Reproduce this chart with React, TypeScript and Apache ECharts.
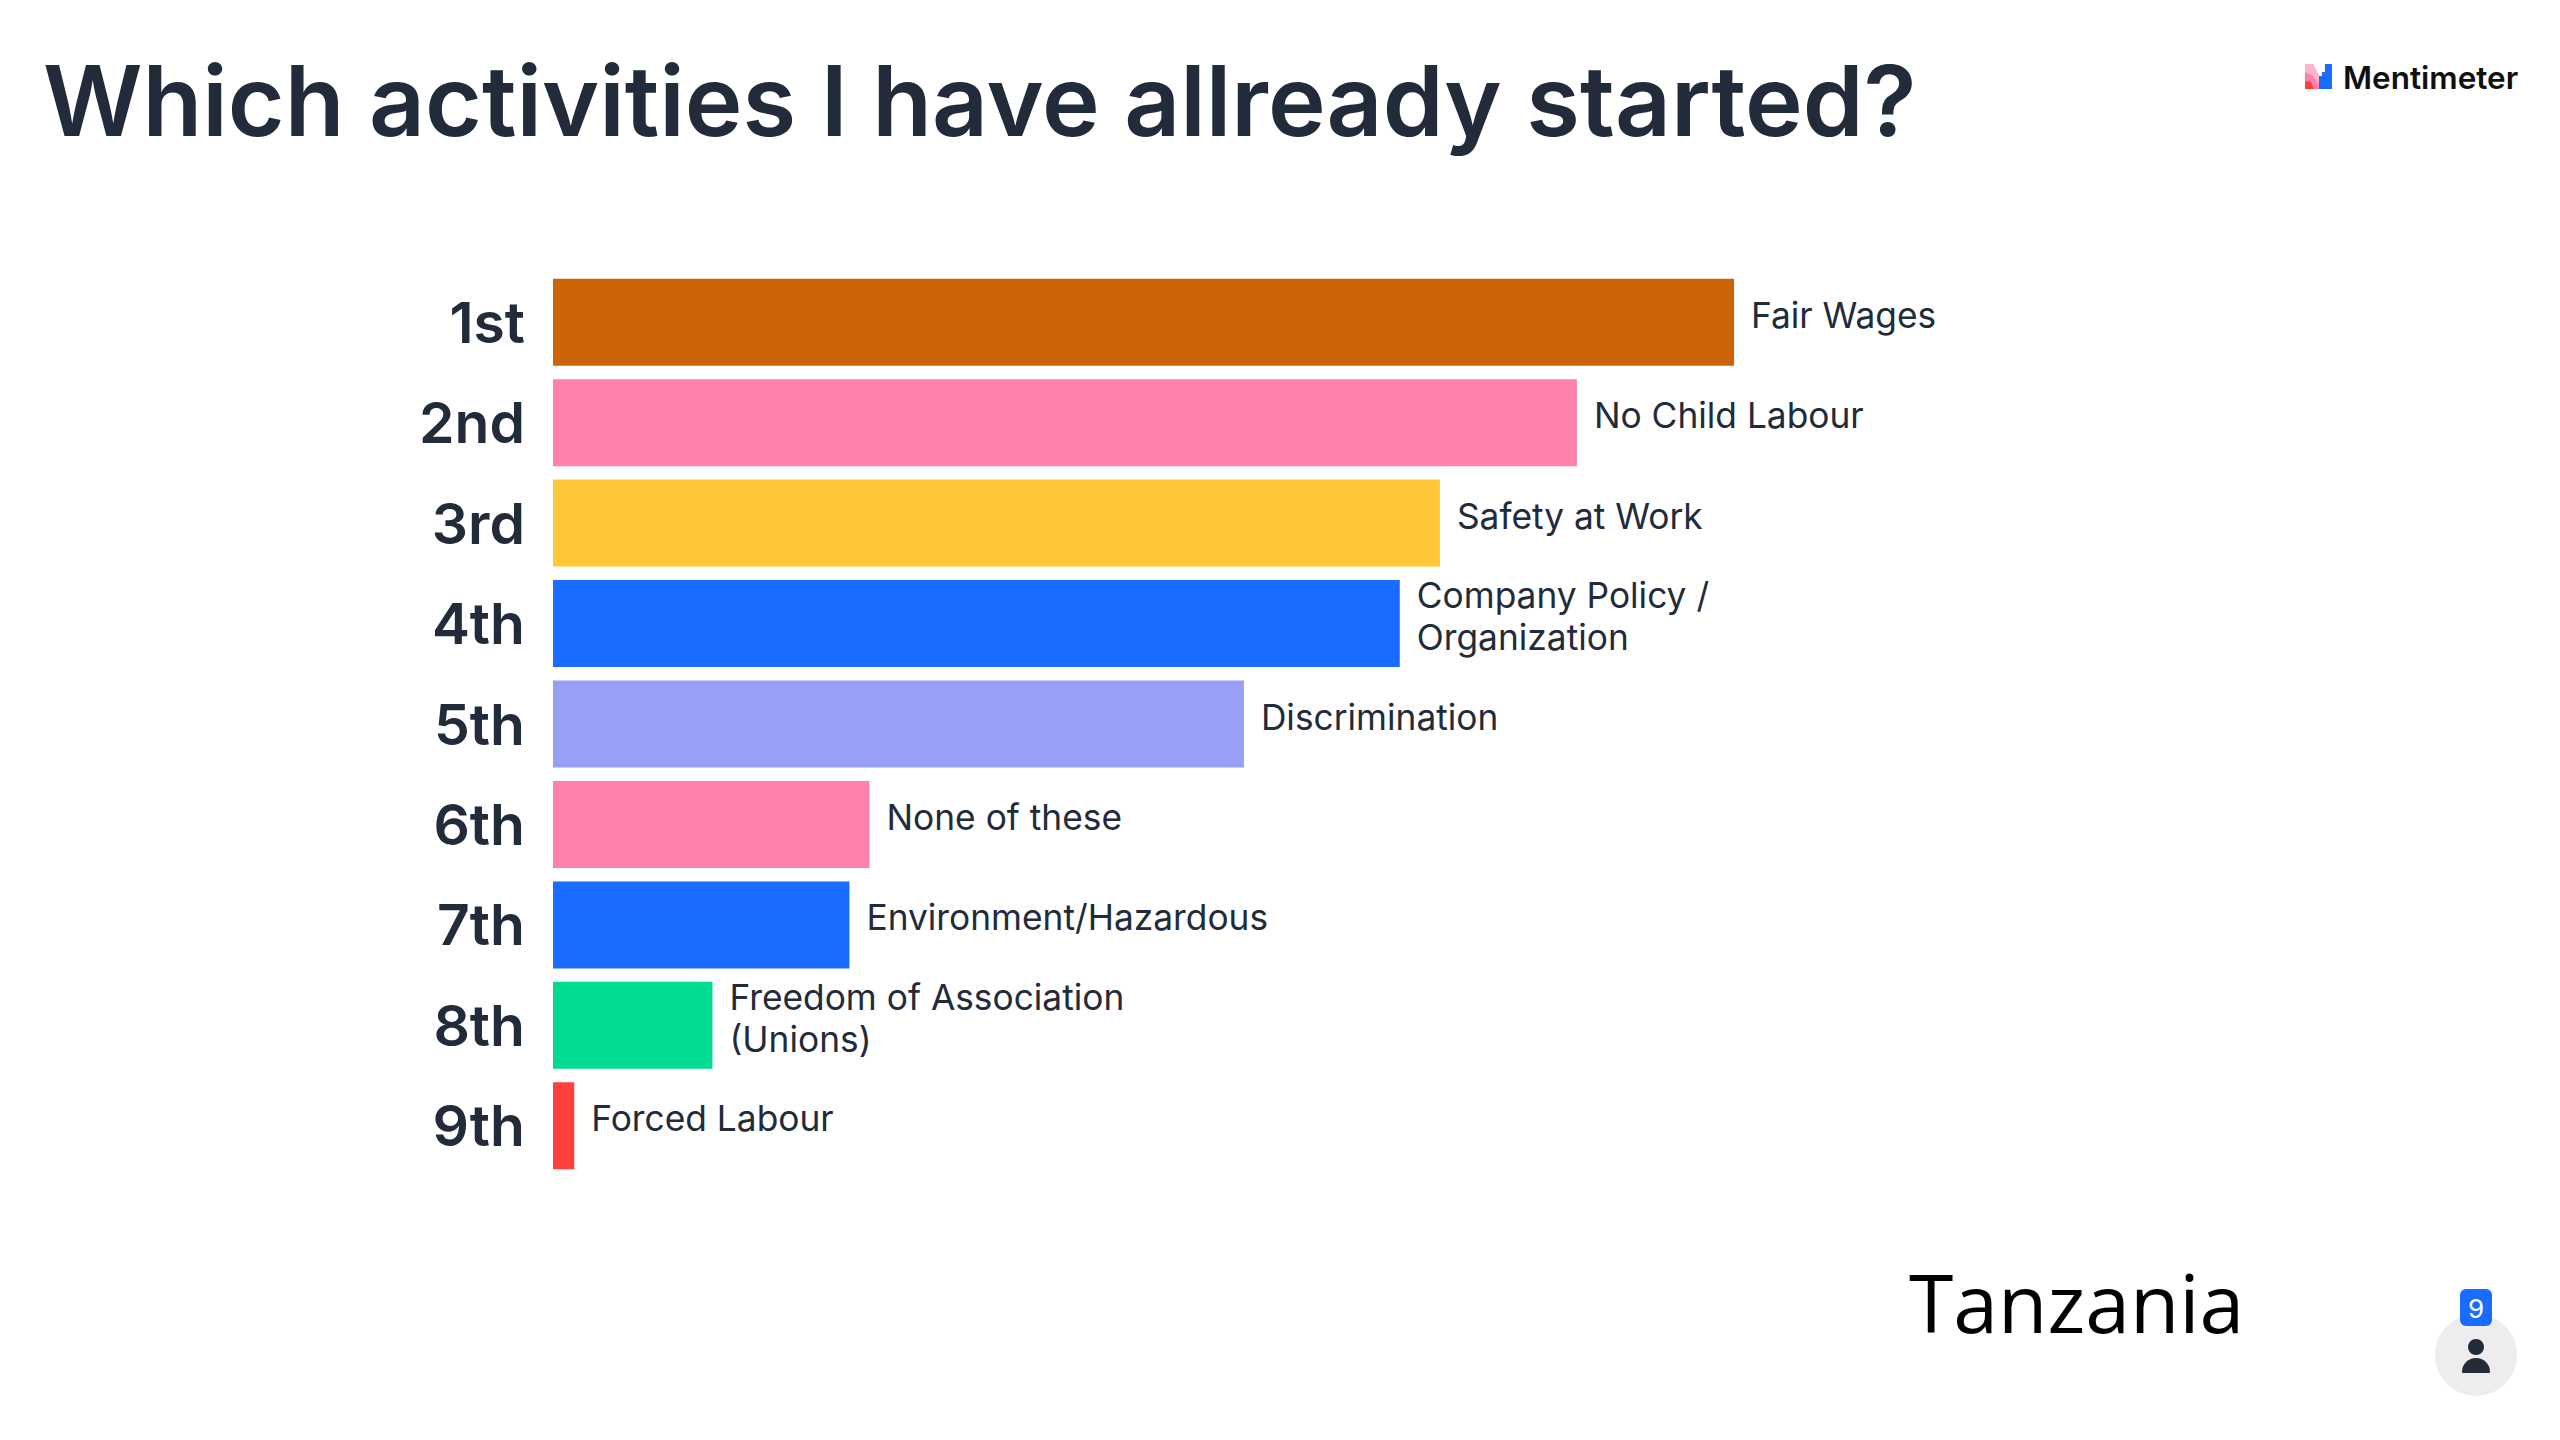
import React, { useEffect, useRef } from "react";
import * as echarts from "echarts";

const ranks = ["1st", "2nd", "3rd", "4th", "5th", "6th", "7th", "8th", "9th"];
const labels = [
  "Fair Wages",
  "No Child Labour",
  "Safety at Work",
  "Company Policy /\nOrganization",
  "Discrimination",
  "None of these",
  "Environment/Hazardous",
  "Freedom of Association\n(Unions)",
  "Forced Labour",
];
const values = [100, 86.7, 75.1, 71.7, 58.5, 26.8, 25.1, 13.5, 1.8];
const colors = ["#CC6508", "#FF80AB", "#FFC638", "#196CFF", "#9A9FF6", "#FF80AB", "#196CFF", "#00DC8F", "#FF403D"];
const title = "Which activities I have allready started?";
const brand = "Mentimeter";
const country = "Tanzania";
const voters = "9";
const INK = "#222B3A";

export default function App() {
  const ref = useRef<HTMLDivElement>(null);
  useEffect(() => {
    const chart = echarts.init(ref.current!, null, { renderer: "svg" });
    chart.setOption({
      animation: false,
      backgroundColor: "#FFFFFF",
      title: {
        text: title,
        left: 38,
        top: 46,
        textStyle: { fontFamily: "Inter", fontSize: 97.6, fontWeight: 600, color: INK },
      },
      grid: { left: 553, top: 272, width: 1181, height: 904 },
      xAxis: { type: "value", min: 0, max: 100, show: false },
      yAxis: {
        type: "category",
        inverse: true,
        data: ranks,
        axisLine: { show: false },
        axisTick: { show: false },
        axisLabel: { margin: 28, fontFamily: "Inter", fontSize: 57, fontWeight: 600, color: INK },
      },
      series: [
        {
          type: "bar",
          barWidth: 87,
          data: values.map((v, i) => ({
            value: v,
            itemStyle: { color: colors[i] },
            label: { formatter: labels[i] },
          })),
          label: {
            show: true,
            position: "right",
            distance: 17,
            offset: [0, -7],
            fontFamily: "Inter",
            fontSize: 35.3,
            lineHeight: 42,
            color: INK,
          },
        },
      ],
      graphic: [
        { type: "polygon", shape: { points: [[2305, 64], [2313, 64], [2322, 80], [2322, 89], [2305, 89]] }, style: { fill: "#FFB3CC" } },
        { type: "polygon", shape: { points: [[2305, 72], [2313, 76], [2322, 89], [2305, 89]] }, style: { fill: "#FF80AB" } },
        { type: "polygon", shape: { points: [[2305, 81], [2311, 82], [2314, 89], [2305, 89]] }, style: { fill: "#FF403D" } },
        { type: "polygon", shape: { points: [[2322, 72], [2325, 72], [2325, 64], [2332, 64], [2332, 89], [2319, 89], [2319, 76], [2322, 76]] }, style: { fill: "#196CFF" } },
        { type: "text", x: 2343, y: 61, style: { text: brand, fontFamily: "Inter", fontSize: 31.5, fontWeight: 600, fill: "#101010" } },
        { type: "text", x: 1909, y: 1261, style: { text: country, fontFamily: "Open Sans", fontSize: 80.5, fill: "#000000" } },
        { type: "circle", shape: { cx: 2476, cy: 1355, r: 41 }, style: { fill: "#EDEDEE" } },
        { type: "rect", shape: { x: 2460, y: 1289, width: 32, height: 37, r: 6 }, style: { fill: "#196CFF" } },
        { type: "text", x: 2476, y: 1308, style: { text: voters, fontFamily: "Inter", fontSize: 26, fill: "#FFFFFF", align: "center", verticalAlign: "middle" } },
        { type: "circle", shape: { cx: 2476, cy: 1347, r: 8 }, style: { fill: INK } },
        { type: "rect", shape: { x: 2462, y: 1358, width: 28, height: 15, r: [14, 14, 1, 1] }, style: { fill: INK } },
      ],
    });
    return () => chart.dispose();
  }, []);
  return <div ref={ref} style={{ position: "fixed", left: 0, top: 0, width: 2560, height: 1440 }} />;
}
